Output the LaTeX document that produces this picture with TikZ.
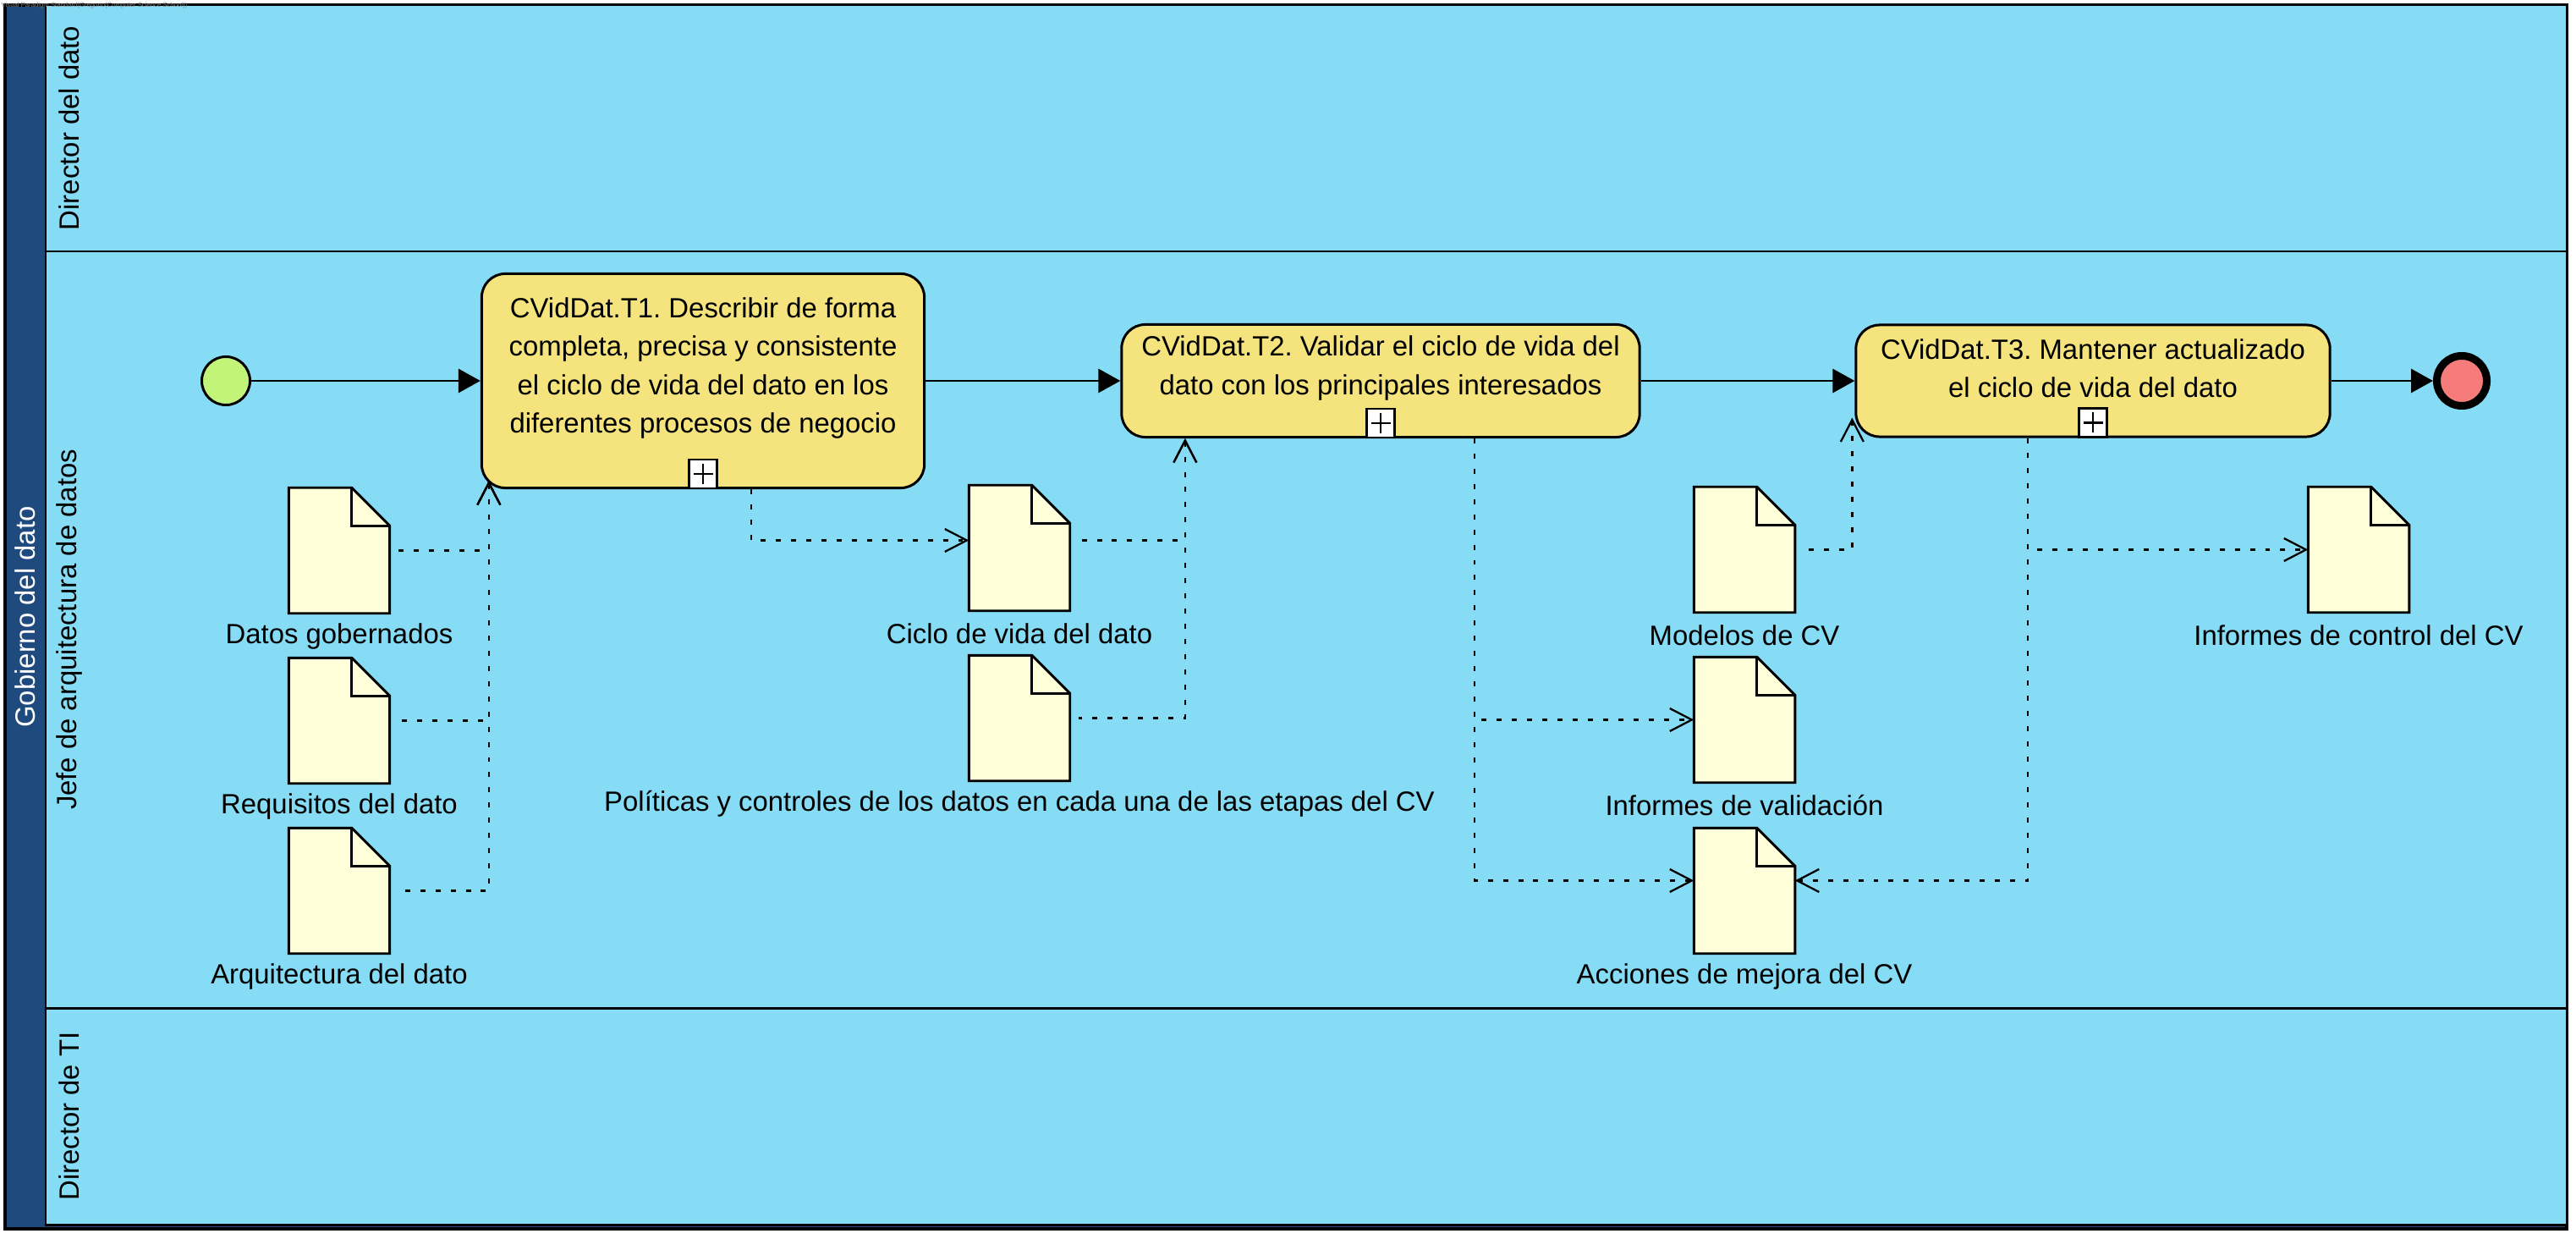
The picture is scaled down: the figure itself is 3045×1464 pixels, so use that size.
\documentclass[tikz,border=0pt]{standalone}
\usepackage{fontspec}
\setmainfont{Liberation Sans}
\frenchspacing
\usetikzlibrary{arrows.meta, calc}

\definecolor{pooldark}{HTML}{1F4A7E}
\definecolor{lanefill}{HTML}{87DCF5}
\definecolor{taskfill}{HTML}{F5E47D}
\definecolor{docfill}{HTML}{FFFFD9}
\definecolor{startfill}{HTML}{C3F47A}
\definecolor{endfill}{HTML}{F67B7B}

\tikzset{
  lbl/.style={font=\fontsize{9.35}{12.8}\selectfont, inner sep=0pt},
  lane/.style={draw, fill=lanefill, line width=0.85pt},
  task/.style={draw, fill=taskfill, rounded corners=0.28cm, line width=0.85pt, inner sep=0pt},
  tasktext/.style={lbl, align=center},
  plusbox/.style={draw, fill=white, line width=0.7pt, minimum width=0.33cm, minimum height=0.34cm,
    inner sep=0pt, anchor=south,
    path picture={\draw[line width=0.7pt]
      ([yshift=0.05cm]path picture bounding box.south) -- ([yshift=-0.05cm]path picture bounding box.north)
      ([xshift=0.05cm]path picture bounding box.west) -- ([xshift=-0.05cm]path picture bounding box.east);}},
  docbox/.style={minimum width=1.18cm, minimum height=1.47cm, inner sep=0pt},
  docline/.style={draw, fill=docfill, line width=0.85pt, line join=miter},
  flow/.style={line width=0.85pt, -{Triangle[length=0.26cm, width=0.28cm]}},
  barb/.tip={Straight Barb[length=0.26cm, width=0.27cm, line width=0.65pt]},
  assoc/.style={line width=0.75pt, dash pattern=on 1.7pt off 3.4pt},
  associn/.style={assoc, {barb}-, shorten >=0.1cm},
  assocout/.style={assoc, -{barb}},
}

\newcommand{\dataobj}[4]{%
  \node[docbox] (#1) at ({#2+59}, {#3+73.5}) {};
  \path[docline] (#1.south west) -- (#1.north west) -- ([xshift=-0.45cm]#1.north east)
    -- ([yshift=-0.45cm]#1.north east) -- (#1.south east) -- cycle;
  \draw[line width=0.85pt] ([xshift=-0.45cm]#1.north east) |- ([yshift=-0.45cm]#1.north east);
  \node[lbl] (#1-lbl) at ([yshift=-0.27cm]#1.south) {#4};
}

\begin{document}
\begin{tikzpicture}[x=0.01cm, y=-0.01cm]
  \useasboundingbox (0, 0) rectangle (3045, 1464);

  \draw[fill=pooldark, line width=0.9pt] (6, 6) rectangle (3034, 1452);
  \node[lbl, rotate=90, text=white] (pool) at (30, 729) {Gobierno del dato};

  \foreach[count=\i] \ya/\yb/\lab in {6/297/Director del dato, 297/1191/Jefe de arquitectura de datos, 1191/1447/Director de TI} {
    \draw[lane] (54, \ya) rectangle (3034, \yb);
    \node[lbl, rotate=90] (lane\i) at (82, {(\ya+\yb)/2}) {\lab};
  }

  \node[anchor=west, inner sep=0pt, text=gray, font=\fontsize{2.2}{2.5}\selectfont] (wm) at (1, 7)
    {Visual Paradigm Standard(Gregorio(Computer Science School))};

  \node[circle, draw, fill=startfill, line width=0.85pt, minimum size=0.57cm, inner sep=0pt] (start) at (267, 450) {};
  \node[circle, draw, fill=endfill, line width=2.56pt, minimum size=0.59cm, inner sep=0pt] (end) at (2910, 450) {};

  \node[task, minimum width=5.23cm, minimum height=2.53cm] (t1) at (831, 450) {};
  \node[task, minimum width=6.12cm, minimum height=1.33cm] (t2) at (1632, 450) {};
  \node[task, minimum width=5.60cm, minimum height=1.32cm] (t3) at (2474, 450) {};

  \node[tasktext] (t1-lbl) at (831, 435) {CVidDat.T1. Describir de forma\\completa, precisa y consistente\\el ciclo de vida del dato en los\\diferentes procesos de negocio};
  \node[tasktext] (t2-lbl) at (1632, 435) {CVidDat.T2. Validar el ciclo de vida del\\dato con los principales interesados};
  \node[tasktext] (t3-lbl) at (2474, 435) {CVidDat.T3. Mantener actualizado\\el ciclo de vida del dato};

  \foreach \t in {t1, t2, t3}
    \node[plusbox] (\t-plus) at (\t.south) {};

  \draw[flow] (start) -- (t1);
  \draw[flow] (t1) -- (t2);
  \draw[flow] (t2) -- (t3);
  \draw[flow] (t3) -- (end);

  \foreach \nm/\x/\y/\lab in {datos/342/577/Datos gobernados, requisitos/342/778/Requisitos del dato,
      arquitectura/342/979/Arquitectura del dato, ciclo/1146/574/Ciclo de vida del dato,
      politicas/1146/775/Políticas y controles de los datos en cada una de las etapas del CV,
      modelos/2003/576/Modelos de CV, validacion/2003/777/Informes de validación,
      acciones/2003/979/Acciones de mejora del CV, control/2729/576/Informes de control del CV} {
    \dataobj{\nm}{\x}{\y}{\lab}
  }

  \coordinate (t1in) at ([xshift=0.1cm, yshift=0.1cm]t1.south west);
  \foreach \d in {datos, requisitos, arquitectura}
    \draw[associn] (t1in) |- (\d.east);
  \coordinate (t1out) at ([xshift=0.57cm]t1.south);
  \draw[assocout] (t1out) |- ([yshift=0.09cm]ciclo.west);

  \coordinate (t2in) at ([xshift=-2.31cm]t2.south);
  \draw[associn] (t2in) |- ([yshift=0.09cm]ciclo.east);
  \draw[associn] (t2in) |- (politicas.east);
  \coordinate (t2out) at ([xshift=1.11cm]t2.south);
  \draw[assocout] (t2out) |- (validacion.west);
  \draw[assocout] (t2out) |- ([yshift=0.12cm]acciones.west);

  \coordinate (t3in) at ([xshift=-0.03cm, yshift=0.24cm]t3.south west);
  \draw[associn] (t3in) |- (modelos.east);
  \coordinate (t3out) at ([xshift=-0.77cm]t3.south);
  \draw[assocout] (t3out) |- (control.west);
  \draw[assocout] (t3out) |- ([yshift=0.12cm]acciones.east);
\end{tikzpicture}
\end{document}
